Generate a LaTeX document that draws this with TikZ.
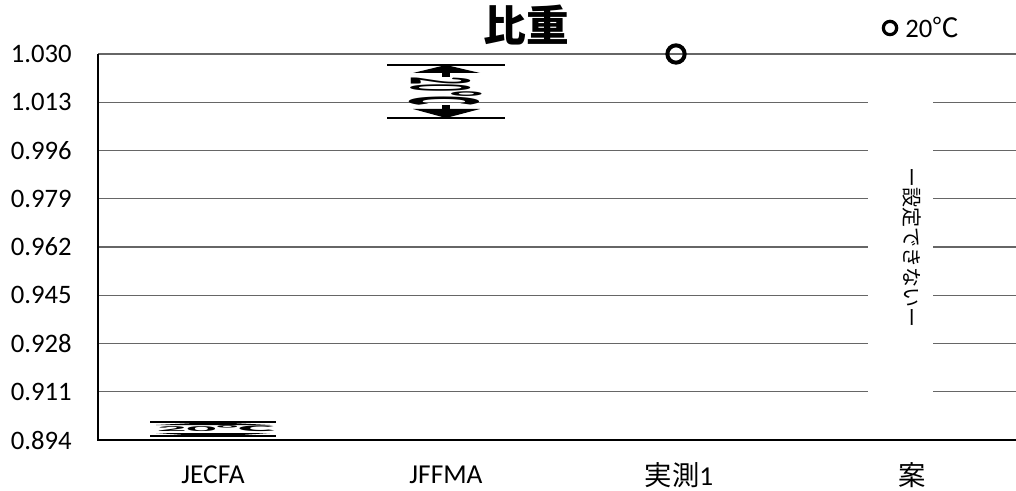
\documentclass[tikz,border=0pt]{standalone}
\usepackage{fontspec}
\setmainfont{Carlito}
\newfontfamily\jpfont{Noto Sans CJK JP}
\newcommand\jp[1]{{\jpfont #1}}
\colorlet{colorGrid}{black!60}
\newcommand\chartLeft{98}
\newcommand\chartRight{1016}
\newcommand\chartTop{54}
\newcommand\chartBottom{440}
\newcommand\rowDist{48.25}
\newcommand\gapLeft{868}
\newcommand\gapRight{933}
\newcommand\drawGridlines{
	\foreach \i in {1,...,7}{
		\draw[gridline] (\chartLeft,\chartTop+\i*\rowDist) to (\gapLeft,\chartTop+\i*\rowDist);
		\draw[gridline] (\gapRight,\chartTop+\i*\rowDist) to (\chartRight,\chartTop+\i*\rowDist);
	}
	\draw[gridline, line width=1.5] (\chartLeft,\chartTop) to (\chartRight,\chartTop);
	\draw[line width=1.5] (\chartLeft,\chartTop) to (\chartLeft,\chartBottom) to (\chartRight,\chartBottom);
}
\newcommand\drawTickLabels{
	\foreach \i/\lab in {0/1.030,1/1.013,2/0.996,3/0.979,4/0.962,5/0.945,6/0.928,7/0.911,8/0.894}{
		\node[ticklabel] (tick\i) at (72,\chartTop+\i*\rowDist) {\lab};
	}
}
\tikzset{
	gridline/.style={color=colorGrid, line width=0.9},
	ticklabel/.style={anchor=east, inner sep=0pt, font=\fontsize{20}{22}\selectfont},
	catlabel/.style={inner sep=0pt, font=\fontsize{20.5}{22}\selectfont},
	rangeline/.style={line width=1.6},
	marker/.style={draw, circle, inner sep=0pt}
}

\begin{document}
\begin{tikzpicture}[x=0.75pt, y=-0.75pt]
	
	\newcommand\catFirst{213}
	\newcommand\catDist{233}
	\newcommand\tempFont{\fontsize{20}{22}\selectfont}
	
	\useasboundingbox (0,0) rectangle (1016,491);
	
	\drawGridlines
	\drawTickLabels
	
	\foreach \j/\cat in {0/JECFA,1/JFFMA,2/\jp{実測}1,3/\jp{案}}{
		\node[catlabel] (cat\j) at (\catFirst+\j*\catDist,475) {\cat};
	}
	
	\node[font=\jpfont\bfseries\fontsize{32}{34}\selectfont, inner sep=0pt] (title) at (526,25) {比重};
	\node[marker, line width=2.4, minimum size=10pt] (legendMark) at (890,28) {};
	\node[anchor=west, inner sep=0pt, font=\tempFont] (legendText) at (905,28) {20\jp{℃}};
	
	% JECFA
	\draw[rangeline] (150,422) to (276,422);
	\draw[rangeline, line width=2] (150,436) to (276,436);
	\fill (213,422) to (270,425) to (156,425) to cycle;
	\fill (213,437) to (270,433) to (156,433) to cycle;
	\node[xscale=2.2, yscale=0.28, inner sep=0pt, font=\tempFont\bfseries] (jecfaTemp) at (216,429) {20\jp{℃}};
	
	% JFFMA
	\draw[rangeline] (387,65) to (505,65);
	\draw[rangeline] (387,118) to (505,118);
	\fill (446,65) to (480,73) to (413,73) to cycle;
	\fill (442,72) rectangle (450,77);
	\fill (446,118) to (480,109) to (413,109) to cycle;
	\fill (442,105) rectangle (450,110);
	\node[rotate=-90, xscale=0.52, yscale=3.4, inner sep=0pt, font=\tempFont\bfseries] (jffmaTemp) at (446,91) {20\jp{℃}};
	
	% 実測1
	\node[marker, line width=3, minimum size=13pt] (measured) at (676,54) {};
	
	% 案
	\node[rotate=-90, inner sep=0pt, font=\jpfont\fontsize{15}{16}\selectfont] (noSetting) at (912,248) {ー設定できないー};
\end{tikzpicture}
\end{document}
